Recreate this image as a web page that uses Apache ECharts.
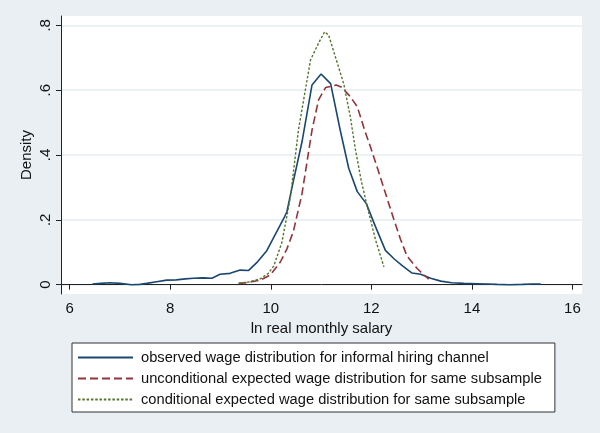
<!DOCTYPE html>
<html>
<head>
<meta charset="utf-8">
<script src="https://cdn.jsdelivr.net/npm/echarts@6/dist/echarts.min.js"></script>
<style>html,body{margin:0;padding:0;background:#e9eff2;}#c{width:600px;height:433px;}</style>
</head>
<body>
<div id="c"></div>
<script>
const seriesNames = [
  "observed wage distribution for informal hiring channel",
  "unconditional expected wage distribution for same subsample",
  "conditional expected wage distribution for same subsample"
];
const xTicks = [6, 8, 10, 12, 14, 16];
const yTicks = [0, 0.2, 0.4, 0.6, 0.8];
const yTickLabels = ["0", ".2", ".4", ".6", ".8"];

const observedX = [6.45,6.62,6.80,7.00,7.23,7.40,7.53,7.73,7.93,8.12,8.30,8.46,8.65,8.83,8.99,9.19,9.39,9.56,9.72,9.92,10.09,10.26,10.32,10.45,10.62,10.82,11.00,11.19,11.38,11.55,11.72,11.90,12.08,12.28,12.45,12.62,12.81,12.98,13.18,13.38,13.60,13.84,14.10,14.30,14.50,14.75,15.00,15.20,15.37];
const observedY = [0.002,0.004,0.006,0.004,0.000,0.001,0.004,0.009,0.014,0.015,0.018,0.020,0.021,0.020,0.032,0.035,0.045,0.044,0.068,0.105,0.155,0.205,0.225,0.320,0.440,0.616,0.650,0.620,0.477,0.359,0.287,0.250,0.180,0.106,0.080,0.058,0.036,0.032,0.020,0.011,0.006,0.004,0.003,0.002,0.001,0.000,0.001,0.002,0.002];

const uncondX = [9.36,9.55,9.79,9.99,10.19,10.32,10.45,10.62,10.82,10.95,11.09,11.20,11.30,11.42,11.58,11.72,11.88,11.98,12.12,12.25,12.45,12.58,12.71,12.91,13.14];
const uncondY = [0.004,0.007,0.014,0.030,0.070,0.110,0.165,0.280,0.477,0.570,0.608,0.612,0.616,0.608,0.580,0.549,0.470,0.426,0.360,0.297,0.200,0.140,0.088,0.050,0.017];

const condX = [9.36,9.55,9.79,9.95,10.06,10.22,10.39,10.55,10.79,10.95,11.07,11.15,11.29,11.45,11.58,11.68,11.80,11.92,12.08,12.25];
const condY = [0.004,0.008,0.018,0.035,0.058,0.130,0.270,0.477,0.693,0.745,0.780,0.770,0.700,0.620,0.520,0.420,0.320,0.240,0.140,0.055];

const pair = (xs, ys) => xs.map((x, i) => [x, ys[i]]);
const FONT = "Liberation Sans";
const chart = echarts.init(document.getElementById('c'), null, {renderer: 'canvas'});
chart.setOption({
  backgroundColor: '#e9eff2',
  animation: false,
  grid: {left: 61, right: 18, top: 16, bottom: 139, show: true, backgroundColor: '#ffffff', borderWidth: 0},
  xAxis: {
    type: 'value', min: 5.827, max: 16.19,
    name: 'ln real monthly salary', nameLocation: 'middle', nameGap: 24,
    nameTextStyle: {fontFamily: FONT, fontSize: 15, color: '#111'},
    axisLine: {show: true, lineStyle: {color: '#222', width: 1}},
    axisTick: {show: true, length: 5, lineStyle: {color: '#222'}, customValues: xTicks},
    axisLabel: {fontFamily: FONT, fontSize: 15, color: '#111', margin: 7, customValues: xTicks},
    splitLine: {show: false}
  },
  yAxis: {
    type: 'value', min: -0.0287, max: 0.8287,
    name: 'Density', nameLocation: 'middle', nameGap: 27, nameRotate: 90, nameMoveOverlap: false,
    nameTextStyle: {fontFamily: FONT, fontSize: 15, color: '#111'},
    axisLine: {show: true, lineStyle: {color: '#222', width: 1}},
    axisTick: {show: true, length: 5, lineStyle: {color: '#222'}, customValues: yTicks},
    axisLabel: {fontFamily: FONT, fontSize: 15, color: '#111', margin: 8, rotate: 90, customValues: yTicks,
      formatter: v => { const i = yTicks.findIndex(t => Math.abs(t - v) < 1e-6); return i >= 0 ? yTickLabels[i] : ''; }},
    splitLine: {show: true, lineStyle: {color: '#e6eef1', width: 1.5}}
  },
  legend: {
    orient: 'vertical', left: 72, top: 343,
    backgroundColor: '#ffffff', borderColor: '#333', borderWidth: 1,
    padding: [7, 13, 5, 5], itemGap: 6, itemWidth: 55, itemHeight: 14,
    itemStyle: {opacity: 0},
    textStyle: {fontFamily: FONT, fontSize: 14.7, color: '#111', padding: [0, 0, 0, 3]},
    data: seriesNames
  },
  series: [
    {name: seriesNames[0], type: 'line', symbol: 'none', data: pair(observedX, observedY),
     lineStyle: {color: '#1a476f', width: 1.6, type: 'solid'}, itemStyle: {color: '#1a476f'}},
    {name: seriesNames[1], type: 'line', symbol: 'none', data: pair(uncondX, uncondY),
     lineStyle: {color: '#90353b', width: 1.6, type: [8, 4]}, itemStyle: {color: '#90353b'}},
    {name: seriesNames[2], type: 'line', symbol: 'none', data: pair(condX, condY),
     lineStyle: {color: '#55752f', width: 1.4, type: [2.5, 1.8]}, itemStyle: {color: '#55752f'}}
  ]
});
</script>
</body>
</html>
